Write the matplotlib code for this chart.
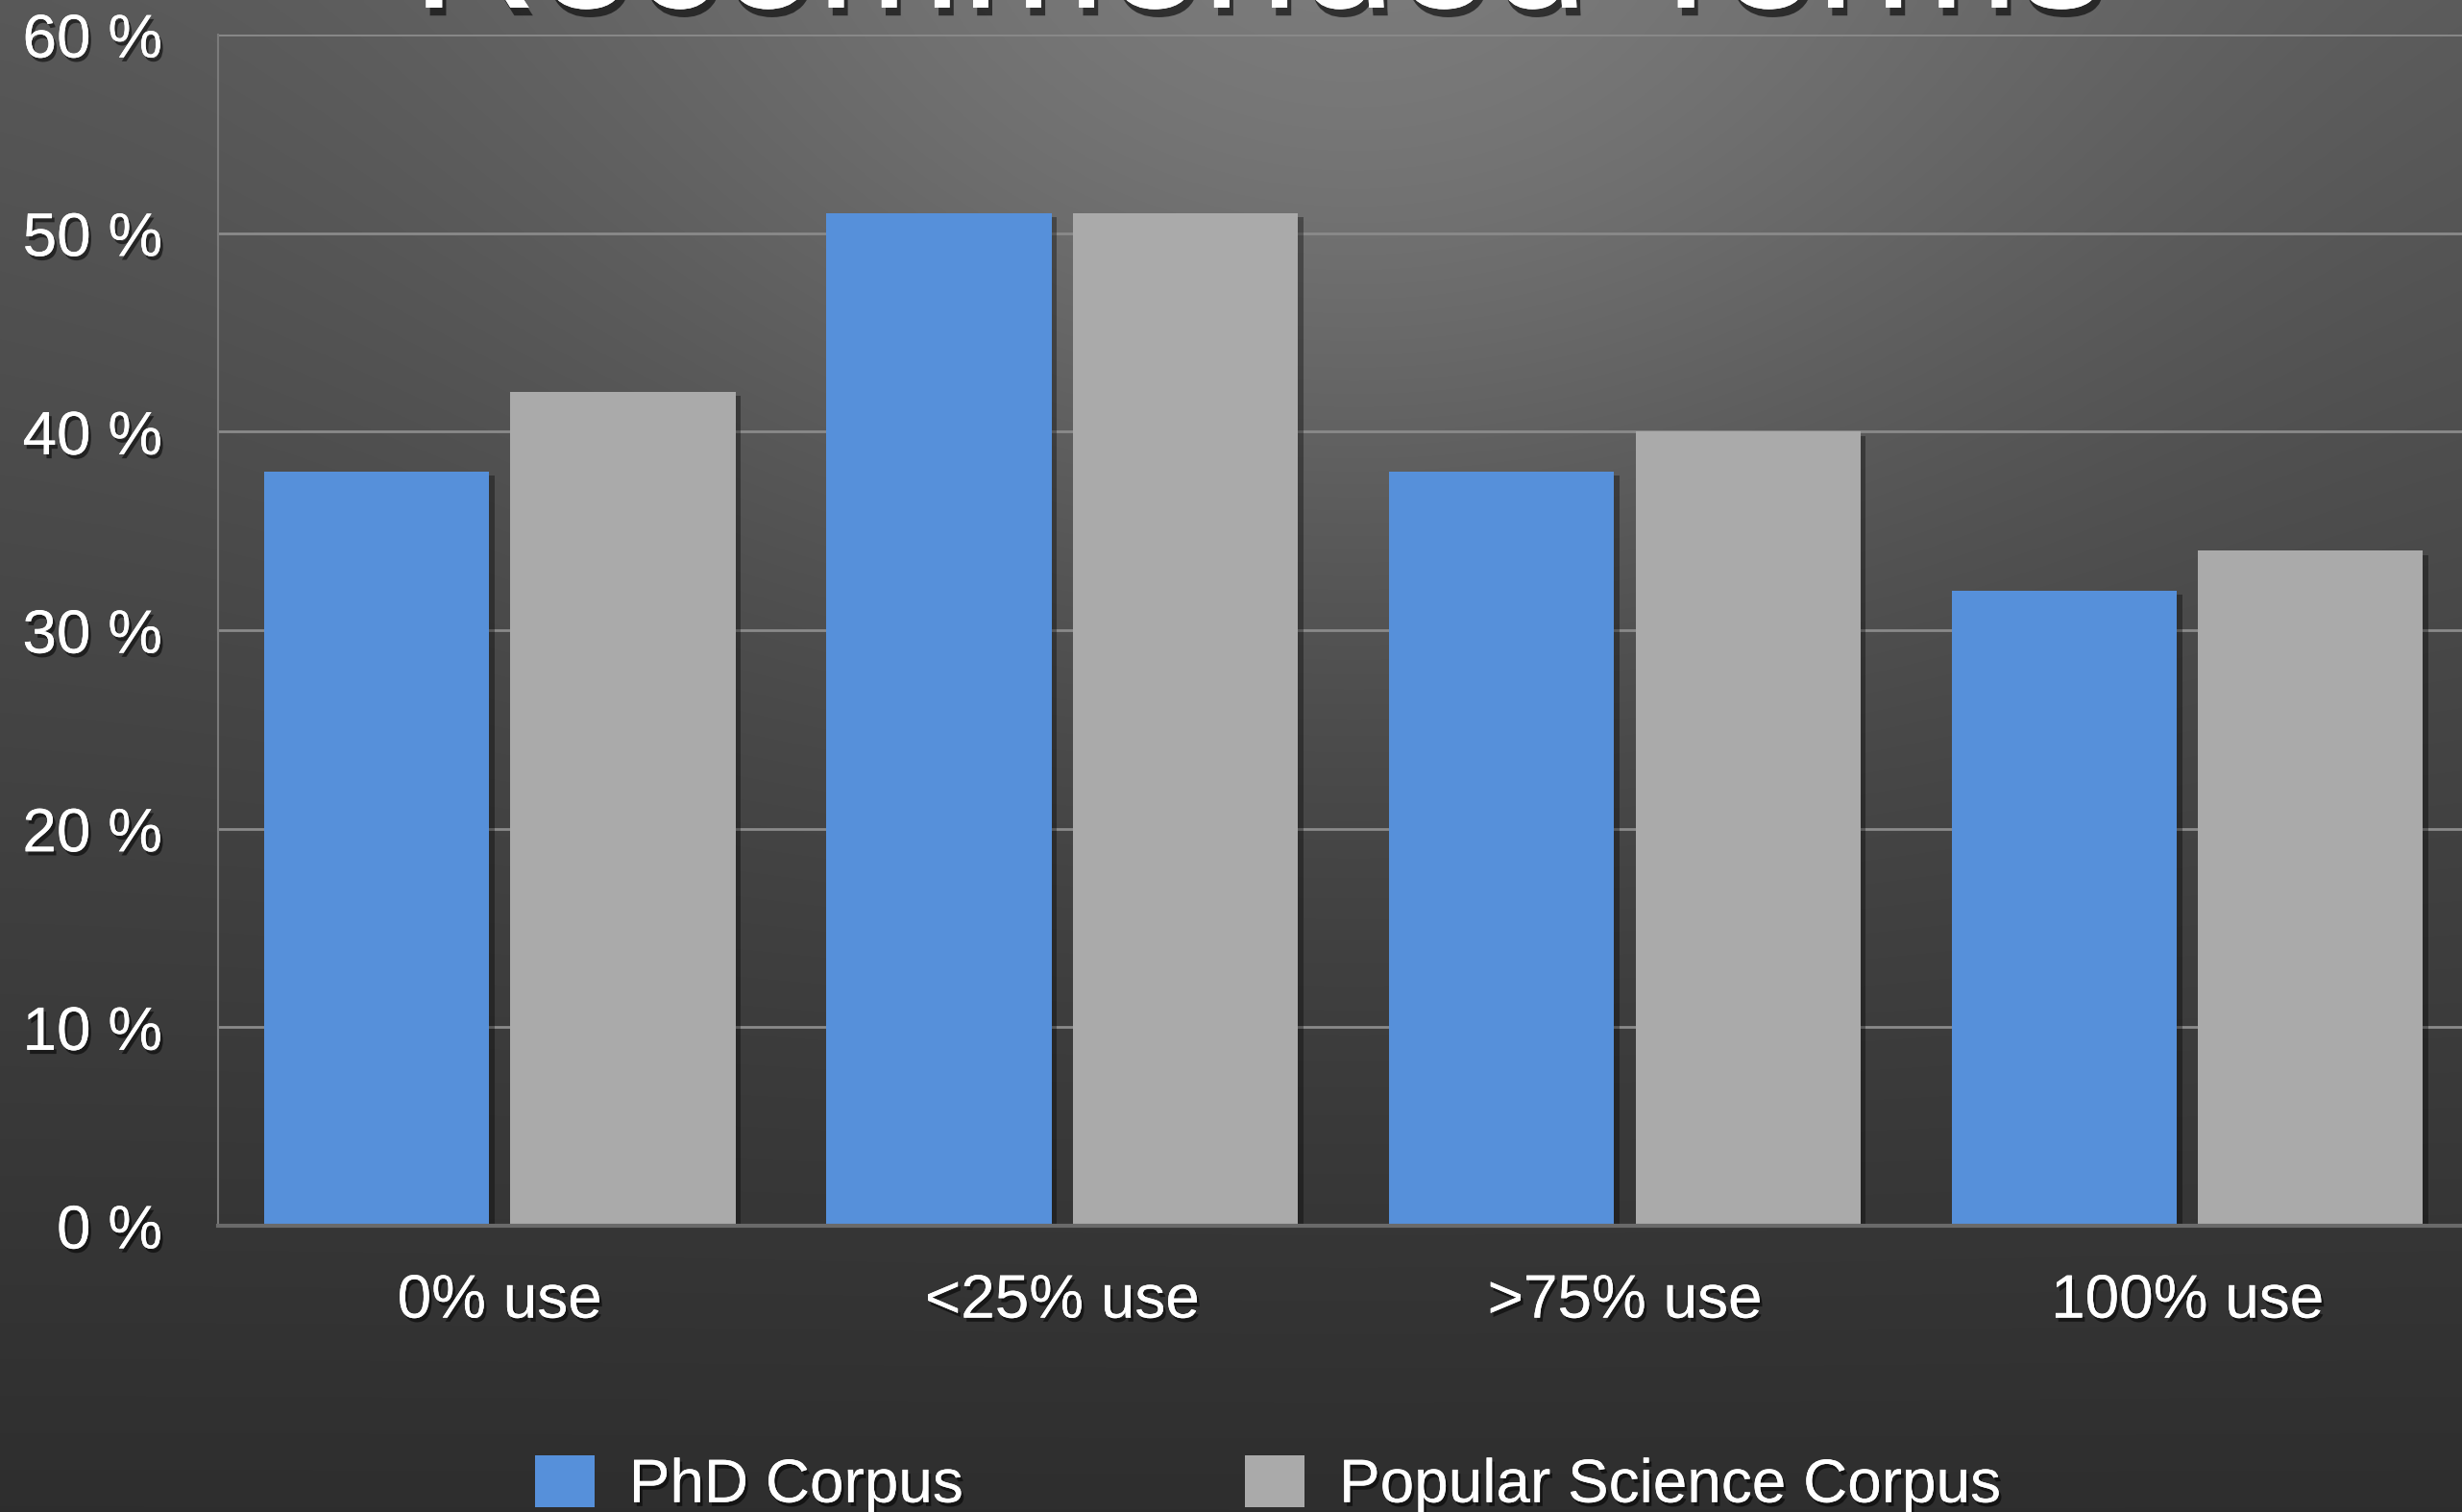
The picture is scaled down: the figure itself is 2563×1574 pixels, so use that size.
import numpy as np
import matplotlib
matplotlib.use("Agg")
import matplotlib.pyplot as plt
import matplotlib.patheffects as pe
from matplotlib.patches import Patch

categories = ["0% use", "<25% use", ">75% use", "100% use"]
phd_values = [38, 51, 38, 32]
popsci_values = [42, 51, 40, 34]
series_names = ["PhD Corpus", "Popular Science Corpus"]
y_ticks = [0, 10, 20, 30, 40, 50, 60]
y_tick_labels = ["0 %", "10 %", "20 %", "30 %", "40 %", "50 %", "60 %"]
title_text = "Recommended Terms"

plt.rcParams['font.family'] = ['Liberation Sans', 'DejaVu Sans']

W, H, DPI = 2563, 1574, 100
fig = plt.figure(figsize=(W / DPI, H / DPI), dpi=DPI)

# background gradient
bg = fig.add_axes([0, 0, 1, 1], zorder=-10)
yy, xx = np.mgrid[0:1:400j, 0:1:650j]
base = 0.34 - 0.16 * yy
spot = 0.14 * np.exp(-(((xx - 0.55) / 0.32) ** 2 + ((yy - 0.02) / 0.40) ** 2))
val = np.clip(base + spot, 0, 1)
img = np.dstack([val, val, val])
bg.imshow(img, extent=[0, 1, 0, 1], origin='upper', aspect='auto', interpolation='bilinear')
bg.set_axis_off()

shadow = [pe.withSimplePatchShadow(offset=(2, -3), shadow_rgbFace='black', alpha=0.55), pe.Normal()]
bar_shadow = [pe.withSimplePatchShadow(offset=(4, -3), shadow_rgbFace='black', alpha=0.35), pe.Normal()]

ax = fig.add_axes([0.0887, 0.1893, 0.9140, 0.977 - 0.1893])
ax.set_facecolor('none')
x = np.arange(len(categories))
bw = 0.40
off = 0.219
b1 = ax.bar(x - off, phd_values, bw, color='#5690da', zorder=3, label=series_names[0])
b2 = ax.bar(x + off, popsci_values, bw, color='#aaaaaa', zorder=3, label=series_names[1])
for p in list(b1) + list(b2):
    p.set_path_effects(bar_shadow)

ax.set_xlim(-0.5, 3.5)
ax.set_ylim(0, 60)
ax.set_yticks(y_ticks)
ax.set_yticklabels(y_tick_labels)
ax.set_xticks(x)
ax.set_xticklabels(categories)
ax.tick_params(axis='both', length=0, labelsize=46, colors='white')
ax.tick_params(axis='y', pad=42)
ax.tick_params(axis='x', pad=35)
for lab in ax.get_xticklabels() + ax.get_yticklabels():
    lab.set_path_effects(shadow)

ax.yaxis.grid(True, color='#8a8a8a', linewidth=2.0, zorder=1)
ax.set_axisbelow(True)
for s in ['top', 'right']:
    ax.spines[s].set_visible(False)
ax.spines['left'].set_color('#7a7a7a')
ax.spines['left'].set_linewidth(1.5)
ax.spines['bottom'].set_color('#6a6a6a')
ax.spines['bottom'].set_linewidth(3)
ax.spines['bottom'].set_zorder(4)

fig.text(0.511, 0.995, title_text, ha='center', va='baseline', fontsize=130,
         color='white', path_effects=[pe.withSimplePatchShadow(offset=(3, -6), shadow_rgbFace='black', alpha=0.6), pe.Normal()])

handles = [Patch(facecolor='#5690da', edgecolor='none'), Patch(facecolor='#aaaaaa', edgecolor='none')]
leg = fig.legend(handles, series_names, loc='lower center', bbox_to_anchor=(0.515, -0.022), ncol=2,
                 frameon=False, fontsize=46, handlelength=0.97, handleheight=0.92,
                 handletextpad=0.56, columnspacing=4.6, borderpad=0, labelcolor='white')
for t in leg.get_texts():
    t.set_path_effects(shadow)

fig.savefig('out.png', dpi=DPI)
